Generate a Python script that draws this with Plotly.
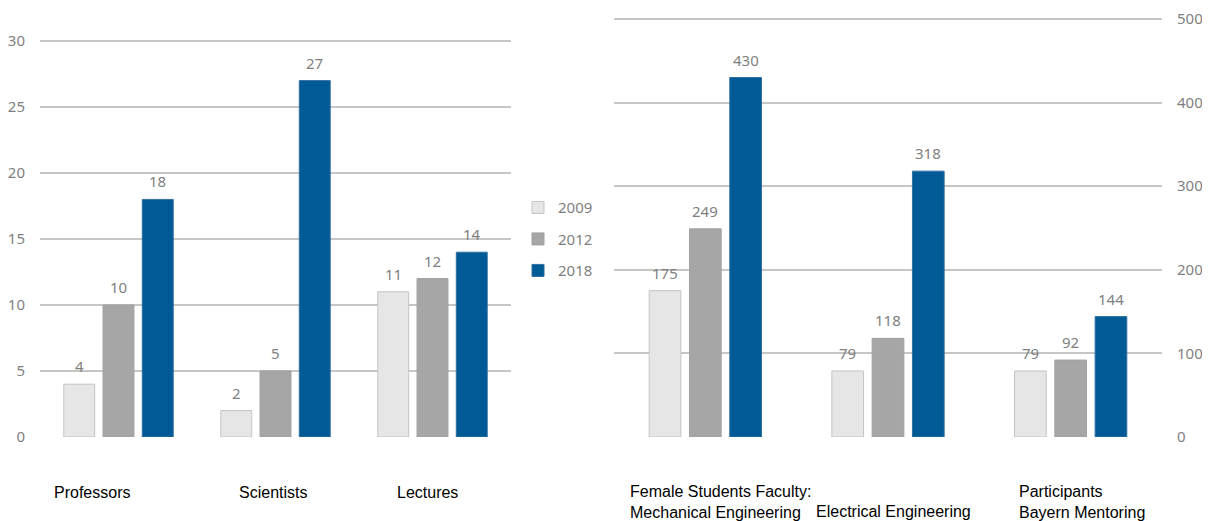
import plotly.graph_objects as go

# page places the figure 8px from the top-left corner of the window
OFF = 8
W, H = 1210 - OFF, 521 - OFF

years = ["2009", "2012", "2018"]
colors = ["#E6E6E6", "#A6A6A6", "#005A96"]
line_colors = ["#C4C4C4", "#A0A0A0", "#2F6FA0"]

left_categories = ["Professors", "Scientists", "Lectures"]
left_values = {
    "2009": [4, 2, 11],
    "2012": [10, 5, 12],
    "2018": [18, 27, 14],
}
left_ticks = [0, 5, 10, 15, 20, 25, 30]

right_categories = [
    "Female Students Faculty:<br>Mechanical Engineering",
    "Electrical Engineering",
    "Participants<br>Bayern Mentoring",
]
right_values = {
    "2009": [175, 79, 79],
    "2012": [249, 118, 92],
    "2018": [430, 318, 144],
}
right_ticks = [0, 100, 200, 300, 400, 500]

# layout geometry (window pixels, converted to figure pixels below)
plot_top, plot_bottom = 14 - OFF, 436.7 - OFF
left_dom = (40 - OFF, 511 - OFF)
right_dom = (614 - OFF, 1162 - OFF)
left_px_per_unit = 13.19
right_px_per_unit = 0.8354

left_offsets = [-0.25, 0.0, 0.25]
left_width = 0.197
right_offsets = [-0.2206, 0.0, 0.2206]
right_width = 0.1735

fig = go.Figure()

for j, yr in enumerate(years):
    xs = [i + left_offsets[j] for i in range(len(left_categories))]
    fig.add_trace(go.Bar(
        x=xs, y=left_values[yr], width=left_width, name=yr,
        marker=dict(color=colors[j], line=dict(color=line_colors[j], width=1)),
        xaxis="x", yaxis="y", legendgroup=yr, showlegend=True,
        hoverinfo="skip",
    ))
    xs2 = [i + right_offsets[j] for i in range(len(right_categories))]
    fig.add_trace(go.Bar(
        x=xs2, y=right_values[yr], width=right_width, name=yr,
        marker=dict(color=colors[j], line=dict(color=line_colors[j], width=1)),
        xaxis="x2", yaxis="y2", legendgroup=yr, showlegend=False,
        hoverinfo="skip",
    ))

annotations = []
label_font = dict(family="Noto Sans", size=15, color="#7F7F7F")
for j, yr in enumerate(years):
    for i, v in enumerate(left_values[yr]):
        annotations.append(dict(
            x=i + left_offsets[j], y=v, xref="x", yref="y", text=str(v),
            showarrow=False, yanchor="middle", yshift=18, font=label_font))
    for i, v in enumerate(right_values[yr]):
        annotations.append(dict(
            x=i + right_offsets[j], y=v, xref="x2", yref="y2", text=str(v),
            showarrow=False, yanchor="middle", yshift=18, font=label_font))

cat_font = dict(family="Liberation Sans", size=16, color="#000000")
# category labels (left-aligned below each group)
left_label_shift = [12, 40, 41]
for i, c in enumerate(left_categories):
    annotations.append(dict(
        x=i - 0.5, y=0, xref="x", yref="paper", text=c, showarrow=False,
        xanchor="left", yanchor="middle", xshift=left_label_shift[i],
        yshift=-55.3, align="left", font=cat_font))
right_label_shift = [14, 17, 38]
right_label_y = [-64.8, -74.3, -64.8]
for i, c in enumerate(right_categories):
    annotations.append(dict(
        x=i - 0.5, y=0, xref="x2", yref="paper", text=c, showarrow=False,
        xanchor="left", yanchor="middle", xshift=right_label_shift[i],
        yshift=right_label_y[i], align="left", font=cat_font))

plot_h = plot_bottom - plot_top
left_range_top = plot_h / left_px_per_unit
right_range_top = plot_h / right_px_per_unit

tick_font = dict(family="Noto Sans", size=15, color="#7F7F7F")
grid = dict(showgrid=True, gridcolor="#C6C6C6", gridwidth=2,
            zeroline=False, showline=False, ticks="")

fig.update_layout(
    width=W, height=H,
    margin=dict(l=0, r=0, t=plot_top, b=H - plot_bottom, pad=0),
    paper_bgcolor="white", plot_bgcolor="white",
    barmode="overlay",
    showlegend=True,
    legend=dict(
        x=(518 - OFF) / W, xanchor="left",
        y=(plot_bottom - (239 - OFF)) / plot_h, yanchor="middle",
        font=dict(family="Noto Sans", size=15, color="#7F7F7F"),
        tracegroupgap=9, bgcolor="rgba(0,0,0,0)", itemwidth=30,
    ),
    xaxis=dict(domain=[left_dom[0] / W, left_dom[1] / W], range=[-0.5, 2.5],
               showticklabels=False, showgrid=False, zeroline=False),
    xaxis2=dict(domain=[right_dom[0] / W, right_dom[1] / W], range=[-0.5, 2.5],
                showticklabels=False, showgrid=False, zeroline=False, anchor="y2"),
    yaxis=dict(range=[0, left_range_top], tickvals=left_ticks, tickfont=tick_font,
               ticklabelstandoff=14, anchor="x", **grid),
    yaxis2=dict(range=[0, right_range_top], tickvals=right_ticks, tickfont=tick_font,
                side="right", anchor="x2", ticklabelstandoff=14, **grid),
    annotations=annotations,
    font=dict(family="Noto Sans"),
)

fig.write_html("out.html")
